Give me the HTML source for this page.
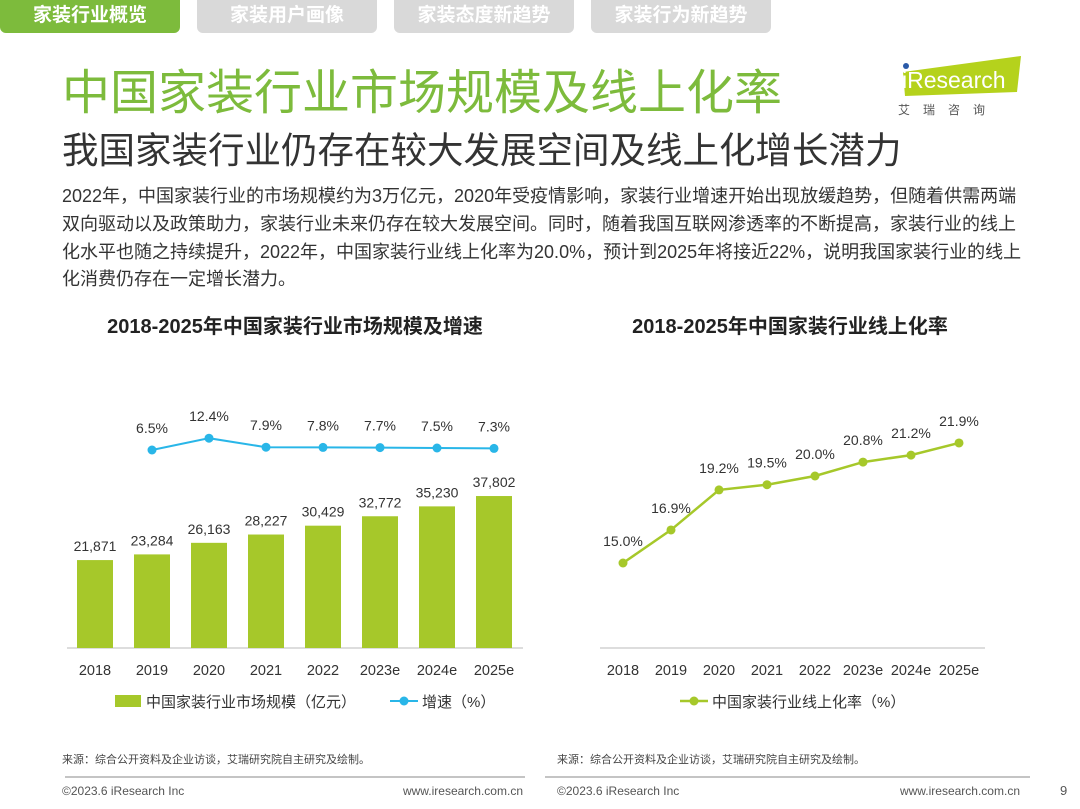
<!DOCTYPE html>
<html><head><meta charset="utf-8">
<style>
body{margin:0;width:1080px;height:809px;background:#fff;font-family:"Liberation Sans","Noto Sans CJK SC",sans-serif;position:relative;overflow:hidden;color:#333}
.tab{position:absolute;top:0;height:33px;border-radius:0 0 6px 6px;color:#fff;font-weight:bold;font-size:19px;line-height:31px;text-align:center}
.abs{position:absolute;white-space:nowrap}
</style></head><body>
<div class="tab" style="left:0;width:180px;background:#7dbb3c">家装行业概览</div>
<div class="tab" style="left:197px;width:180px;background:#d9d9d9">家装用户画像</div>
<div class="tab" style="left:394px;width:180px;background:#d9d9d9">家装态度新趋势</div>
<div class="tab" style="left:591px;width:180px;background:#d9d9d9">家装行为新趋势</div>
<div class="abs" style="left:62px;top:53px;font-size:48px;color:#7dbb3c">中国家装行业市场规模及线上化率</div>
<div class="abs" style="left:895px;top:52px;width:130px;height:70px">
<svg width="130" height="70"><polygon points="8,20 126,4 122,40 10,44" fill="#b5d21c"/><circle cx="11" cy="14" r="3" fill="#2a5aa8"/><text x="7" y="36" font-size="23" fill="#fff" font-family="Liberation Sans">iResearch</text><text x="3" y="62" font-size="12" fill="#555" letter-spacing="13">艾瑞咨询</text></svg></div>
<div class="abs" style="left:62px;top:121px;font-size:36.5px;color:#333">我国家装行业仍存在较大发展空间及线上化增长潜力</div>
<div class="abs" style="left:62px;top:183px;width:968px;white-space:normal;font-size:18px;line-height:27.8px;color:#333">2022年，中国家装行业的市场规模约为3万亿元，2020年受疫情影响，家装行业增速开始出现放缓趋势，但随着供需两端双向驱动以及政策助力，家装行业未来仍存在较大发展空间。同时，随着我国互联网渗透率的不断提高，家装行业的线上化水平也随之持续提升，2022年，中国家装行业线上化率为20.0%，预计到2025年将接近22%，说明我国家装行业的线上化消费仍存在一定增长潜力。</div>
<svg class="abs" style="left:0;top:0" width="1080" height="809" id="charts">
<text x="295" y="333" text-anchor="middle" font-size="20" font-weight="bold" fill="#222">2018-2025年中国家装行业市场规模及增速</text>
<text x="790" y="333" text-anchor="middle" font-size="20" font-weight="bold" fill="#222">2018-2025年中国家装行业线上化率</text>
<line x1="67" y1="648" x2="523" y2="648" stroke="#bbb"/>
<line x1="600" y1="648" x2="985" y2="648" stroke="#bbb"/>
<g id="lg"></g><g id="rg"></g>
<rect x="115" y="695" width="26" height="12" fill="#a6c82a"/>
<text x="146" y="707" font-size="15" fill="#333">中国家装行业市场规模（亿元）</text>
<line x1="390" y1="701" x2="418" y2="701" stroke="#29b6e8" stroke-width="2"/><circle cx="404" cy="701" r="4.5" fill="#29b6e8"/>
<text x="422" y="707" font-size="15" fill="#333">增速（%）</text>
<line x1="680" y1="701" x2="708" y2="701" stroke="#a6c82a" stroke-width="2.5"/><circle cx="694" cy="701" r="4.5" fill="#a6c82a"/>
<text x="712" y="707" font-size="15" fill="#333">中国家装行业线上化率（%）</text>
<text x="62" y="763" font-size="11" fill="#444">来源：综合公开资料及企业访谈，艾瑞研究院自主研究及绘制。</text>
<text x="557" y="763" font-size="11" fill="#444">来源：综合公开资料及企业访谈，艾瑞研究院自主研究及绘制。</text>
<line x1="65" y1="777" x2="525" y2="777" stroke="#888"/><line x1="545" y1="777" x2="1030" y2="777" stroke="#888"/>
<text x="62" y="795" font-size="12" fill="#555">©2023.6 iResearch Inc</text>
<text x="523" y="795" font-size="12" fill="#555" text-anchor="end">www.iresearch.com.cn</text>
<text x="557" y="795" font-size="12" fill="#555">©2023.6 iResearch Inc</text>
<text x="1020" y="795" font-size="12" fill="#555" text-anchor="end">www.iresearch.com.cn</text>
<text x="1060" y="795" font-size="13" fill="#555">9</text>
</svg>
<script>
const leftCats=["2018","2019","2020","2021","2022","2023e","2024e","2025e"];
const marketSize=[21871,23284,26163,28227,30429,32772,35230,37802];
const growth=[6.5,12.4,7.9,7.8,7.7,7.5,7.3];
const growthLabels=["6.5%","12.4%","7.9%","7.8%","7.7%","7.5%","7.3%"];
const rightCats=["2018","2019","2020","2021","2022","2023e","2024e","2025e"];
const onlineRate=[15.0,16.9,19.2,19.5,20.0,20.8,21.2,21.9];
const NS="http://www.w3.org/2000/svg";
function mk(p,t,a,txt){const e=document.createElementNS(NS,t);for(const k in a)e.setAttribute(k,a[k]);if(txt!=null)e.textContent=txt;p.appendChild(e);return e;}
const lg=document.getElementById('lg'),rg=document.getElementById('rg');
const lx=i=>95+i*57, ly=v=>648-v*0.00402, gy=v=>463-v*2.0;
const rx=i=>623+i*48, ry=v=>563-(v-15)*17.4;
leftCats.forEach((c,i)=>{
  const b=mk(lg,'rect',{x:lx(i)-18,y:ly(marketSize[i]),width:36,height:648-ly(marketSize[i]),fill:'#a6c82a'});
  
  
  const t=mk(lg,'text',{x:lx(i),y:ly(marketSize[i])-9,'text-anchor':'middle','font-size':14,fill:'#333'},marketSize[i].toLocaleString('en-US'));
  
  
  const x=mk(lg,'text',{x:lx(i),y:675,'text-anchor':'middle','font-size':14.5,fill:'#333'},c);
  
  
});
// growth series starts at 2019
const P=growth.map((v,i)=>[lx(i+1),gy(v)]);
const line=mk(lg,'polyline',{points:P.map(p=>p.join(',')).join(' '),fill:'none',stroke:'#29b6e8','stroke-width':2});


P.forEach((p,i)=>{
  const c=mk(lg,'circle',{cx:p[0],cy:p[1],r:4.5,fill:'#29b6e8'});
  
  
  const t=mk(lg,'text',{x:p[0],y:p[1]-17,'text-anchor':'middle','font-size':14,fill:'#333'},growthLabels[i]);
  
  
});
const R=onlineRate.map((v,i)=>[rx(i),ry(v)]);
const rl=mk(rg,'polyline',{points:R.map(p=>p.join(',')).join(' '),fill:'none',stroke:'#a6c82a','stroke-width':2.5});


R.forEach((p,i)=>{
  const c=mk(rg,'circle',{cx:p[0],cy:p[1],r:4.5,fill:'#a6c82a'});
  
  
  const t=mk(rg,'text',{x:p[0],y:p[1]-17,'text-anchor':'middle','font-size':14,fill:'#333'},onlineRate[i].toFixed(1)+'%');
  
  
  const x=mk(rg,'text',{x:p[0],y:675,'text-anchor':'middle','font-size':14.5,fill:'#333'},rightCats[i]);
  
  
});
</script>
</body></html>
